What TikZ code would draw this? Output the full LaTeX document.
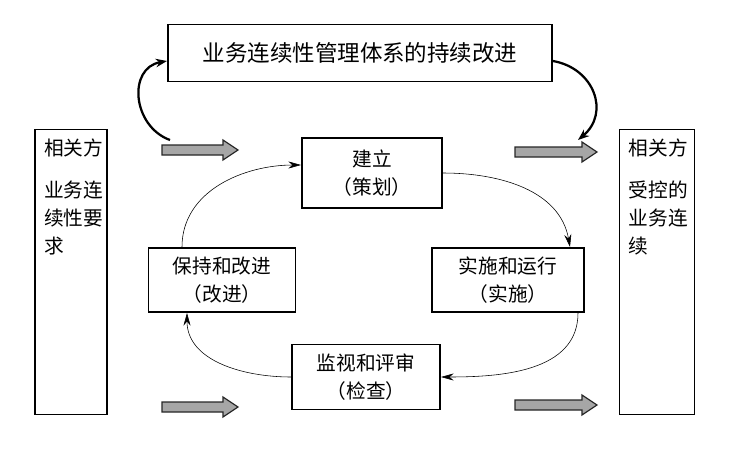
\documentclass[tikz,border=0pt]{standalone}
\usepackage{fontspec}
\newfontfamily\cjk{Noto Sans CJK SC}
\usetikzlibrary{arrows.meta}
\tikzset{
  box/.style={draw,line width=1.4pt,align=center,font=\cjk\fontsize{14}{20}\selectfont},
  cyc/.style={-{Stealth[length=9pt,width=5pt]},thin},
  loopback/.style={-{Stealth[length=8pt,width=6pt]},line width=1.6pt},
  fat/.style={draw=black!85,fill=gray!70,line width=0.8pt}
}
\newcommand{\fatarrow}[2]{% start point, length in px
  \path[fat] (#1) ++(0,-5) -- ++(#2-15,0) -- ++(0,-5) -- ++(15,10) -- ++(-15,10) -- ++(0,-5) -- ++(-#2+15,0) -- cycle;}
\begin{document}
\begin{tikzpicture}[x=0.025cm,y=-0.025cm]
  \useasboundingbox (0,0) rectangle (752,454);
  % boxes
  \node[box,font=\cjk\fontsize{16}{20}\selectfont,minimum width=384*0.025cm,minimum height=57*0.025cm] (top) at (360,53) {业务连续性管理体系的持续改进};
  \node[box,minimum width=72*0.025cm,minimum height=285*0.025cm] (req) at (71,272) {};
  \node[anchor=north west,font=\cjk\fontsize{14}{20}\selectfont,align=left,inner sep=7pt] at (req.north west) {相关方\\[10pt]业务连\\续性要\\求};
  \node[box,minimum width=75*0.025cm,minimum height=285*0.025cm] (ctl) at (657,272) {};
  \node[anchor=north west,font=\cjk\fontsize{14}{20}\selectfont,align=left,inner sep=7pt] at (ctl.north west) {相关方\\[10pt]受控的\\业务连\\续};
  \node[box,minimum width=140*0.025cm,minimum height=70*0.025cm] (plan) at (372,173) {建立\\（策划）};
  \node[box,minimum width=152*0.025cm,minimum height=64*0.025cm] (do) at (508,280) {实施和运行\\（实施）};
  \node[box,minimum width=147*0.025cm,minimum height=64*0.025cm] (act) at (222,280) {保持和改进\\（改进）};
  \node[box,minimum width=148*0.025cm,minimum height=65*0.025cm] (chk) at (366,377) {监视和评审\\（检查）};
  % cycle
  \draw[cyc] (plan.east) to[out=0,in=100] ([xshift=62*0.025cm]do.north);
  \draw[cyc] ([xshift=70*0.025cm]do.south) to[out=-90,in=0] (chk.east);
  \draw[cyc] (chk.west) to[out=180,in=-90] ([xshift=-35*0.025cm]act.south);
  \draw[cyc] ([xshift=-40*0.025cm]act.north) to[out=90,in=180] ([yshift=8*0.025cm]plan.west);
  % improvement loop
  \coordinate (lo) at (170,140);
  \coordinate (ro) at (578,140);
  \draw[loopback] (lo) to[out=160,in=190,looseness=1.3] ([yshift=-8*0.025cm]top.west);
  \draw[loopback] ([yshift=-8*0.025cm]top.east) to[out=-10,in=40,looseness=1.3] (ro);
  % fat arrows
  \fatarrow{162,150}{76}
  \fatarrow{162,407}{76}
  \fatarrow{515,152}{82}
  \fatarrow{515,405}{82}
\end{tikzpicture}
\end{document}
